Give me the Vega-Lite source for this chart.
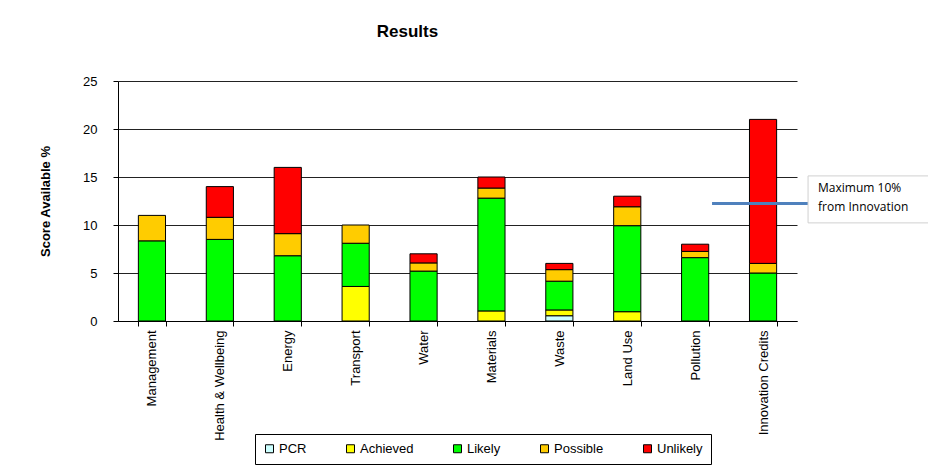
{
  "$schema": "https://vega.github.io/schema/vega-lite/v6.json",
  "width": 679,
  "height": 240,
  "autosize": {"type": "none"},
  "padding": {"left": 118, "top": 81, "right": 131, "bottom": 147},
  "background": "white",
  "config": {
    "font": "Liberation Sans",
    "view": {"stroke": null},
    "title": {"fontSize": 17, "fontWeight": "bold", "color": "black", "offset": 34, "dx": -50}
  },
  "title": "Results",
  "datasets": {
    "scores": [
      {"category": "Management", "status": "Likely", "value": 8.35, "ord": 3},
      {"category": "Management", "status": "Possible", "value": 2.65, "ord": 4},
      {"category": "Health & Wellbeing", "status": "Likely", "value": 8.5, "ord": 3},
      {"category": "Health & Wellbeing", "status": "Possible", "value": 2.3, "ord": 4},
      {"category": "Health & Wellbeing", "status": "Unlikely", "value": 3.2, "ord": 5},
      {"category": "Energy", "status": "Likely", "value": 6.8, "ord": 3},
      {"category": "Energy", "status": "Possible", "value": 2.3, "ord": 4},
      {"category": "Energy", "status": "Unlikely", "value": 6.9, "ord": 5},
      {"category": "Transport", "status": "Achieved", "value": 3.6, "ord": 2},
      {"category": "Transport", "status": "Likely", "value": 4.5, "ord": 3},
      {"category": "Transport", "status": "Possible", "value": 1.9, "ord": 4},
      {"category": "Water", "status": "Likely", "value": 5.2, "ord": 3},
      {"category": "Water", "status": "Possible", "value": 0.85, "ord": 4},
      {"category": "Water", "status": "Unlikely", "value": 0.95, "ord": 5},
      {"category": "Materials", "status": "Achieved", "value": 1.05, "ord": 2},
      {"category": "Materials", "status": "Likely", "value": 11.75, "ord": 3},
      {"category": "Materials", "status": "Possible", "value": 1.05, "ord": 4},
      {"category": "Materials", "status": "Unlikely", "value": 1.15, "ord": 5},
      {"category": "Waste", "status": "PCR", "value": 0.55, "ord": 1},
      {"category": "Waste", "status": "Achieved", "value": 0.6, "ord": 2},
      {"category": "Waste", "status": "Likely", "value": 3.0, "ord": 3},
      {"category": "Waste", "status": "Possible", "value": 1.2, "ord": 4},
      {"category": "Waste", "status": "Unlikely", "value": 0.65, "ord": 5},
      {"category": "Land Use", "status": "Achieved", "value": 0.97, "ord": 2},
      {"category": "Land Use", "status": "Likely", "value": 8.96, "ord": 3},
      {"category": "Land Use", "status": "Possible", "value": 1.97, "ord": 4},
      {"category": "Land Use", "status": "Unlikely", "value": 1.1, "ord": 5},
      {"category": "Pollution", "status": "Likely", "value": 6.6, "ord": 3},
      {"category": "Pollution", "status": "Possible", "value": 0.65, "ord": 4},
      {"category": "Pollution", "status": "Unlikely", "value": 0.75, "ord": 5},
      {"category": "Innovation Credits", "status": "Likely", "value": 5.0, "ord": 3},
      {"category": "Innovation Credits", "status": "Possible", "value": 1.0, "ord": 4},
      {"category": "Innovation Credits", "status": "Unlikely", "value": 15.0, "ord": 5}
    ],
    "note": [
      {"category": "Innovation Credits", "value": 12.25, "label": "Maximum 10%\nfrom Innovation"}
    ]
  },
  "layer": [
    {
      "data": {"name": "scores"},
      "mark": {"type": "bar", "stroke": "black", "strokeWidth": 1},
      "encoding": {
        "x": {
          "field": "category",
          "type": "nominal",
          "sort": null,
          "scale": {"paddingInner": 0.6, "paddingOuter": 0.3},
          "axis": {
            "title": null,
            "labelAngle": -90,
            "labelFontSize": 13,
            "labelColor": "black",
            "labelPadding": 4,
            "tickBand": "extent",
            "tickSize": 5,
            "tickColor": "black",
            "domainColor": "black"
          }
        },
        "y": {
          "field": "value",
          "type": "quantitative",
          "aggregate": "sum",
          "stack": "zero",
          "scale": {"domain": [0, 25], "nice": false},
          "axis": {
            "title": "Score Available %",
            "titleFontSize": 13,
            "titleFontWeight": "bold",
            "titleColor": "black",
            "titlePadding": 30,
            "values": [0, 5, 10, 15, 20, 25],
            "labelFontSize": 13,
            "labelColor": "black",
            "labelPadding": 16,
            "tickSize": 5,
            "tickColor": "black",
            "domainColor": "black",
            "grid": true,
            "gridColor": "#222222",
            "gridOpacity": 1
          }
        },
        "color": {
          "field": "status",
          "type": "nominal",
          "scale": {
            "domain": ["PCR", "Achieved", "Likely", "Possible", "Unlikely"],
            "range": ["#ccffff", "#ffff00", "#00ff00", "#ffcc00", "#ff0000"]
          },
          "legend": {
            "title": null,
            "orient": "none",
            "direction": "horizontal",
            "legendX": 137,
            "legendY": 353,
            "padding": 8,
            "strokeColor": "black",
            "columnPadding": 37,
            "symbolType": "square",
            "symbolSize": 64,
            "symbolStrokeColor": "black",
            "symbolStrokeWidth": 1,
            "labelFontSize": 13,
            "labelColor": "black",
            "labelOffset": 3
          }
        },
        "order": {"field": "ord", "type": "quantitative"}
      }
    },
    {
      "data": {"name": "note"},
      "mark": {"type": "tick", "color": "#4f81bd", "size": 96, "thickness": 3, "xOffset": -3, "opacity": 1},
      "encoding": {
        "x": {"field": "category", "type": "nominal", "sort": null},
        "y": {"field": "value", "type": "quantitative", "scale": {"domain": [0, 25], "nice": false}}
      }
    },
    {
      "data": {"name": "note"},
      "mark": {
        "type": "point",
        "shape": "M-1,-0.385H1V0.385H-1Z",
        "size": 14884,
        "filled": true,
        "fill": "white",
        "stroke": "#d0d0d0",
        "strokeWidth": 1,
        "opacity": 1,
        "xOffset": 106,
        "yOffset": -4
      },
      "encoding": {
        "x": {"field": "category", "type": "nominal", "sort": null},
        "y": {"field": "value", "type": "quantitative", "scale": {"domain": [0, 25], "nice": false}}
      }
    },
    {
      "data": {"name": "note"},
      "mark": {
        "type": "text",
        "align": "left",
        "baseline": "middle",
        "font": "Open Sans",
        "fontSize": 12,
        "color": "black",
        "lineBreak": "\n",
        "lineHeight": 19,
        "xOffset": 55,
        "yOffset": -15
      },
      "encoding": {
        "x": {"field": "category", "type": "nominal", "sort": null},
        "y": {"field": "value", "type": "quantitative", "scale": {"domain": [0, 25], "nice": false}},
        "text": {"field": "label"}
      }
    }
  ]
}
